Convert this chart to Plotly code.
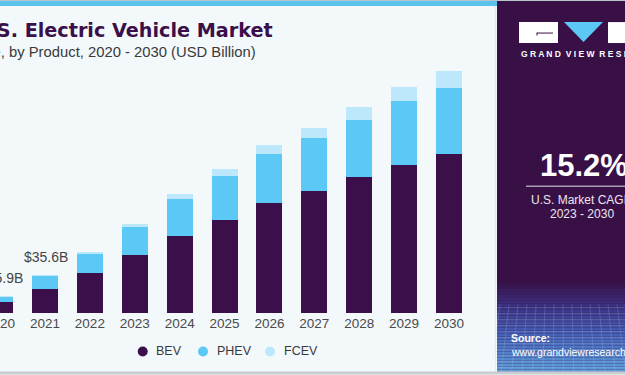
import plotly.graph_objects as go

# ---------------- data ----------------
years = ["2020", "2021", "2022", "2023", "2024", "2025", "2026", "2027", "2028", "2029", "2030"]
bev = [10.2, 22.8, 37.9, 55.1, 73.0, 88.0, 103.8, 114.7, 127.9, 139.8, 149.9]
phev = [5.6, 12.5, 18.1, 26.1, 34.5, 40.8, 46.4, 50.3, 54.3, 60.0, 62.7]
fcev = [0.1, 0.3, 1.3, 3.1, 4.7, 7.0, 8.5, 10.0, 12.0, 13.8, 15.5]
series_names = ["BEV", "PHEV", "FCEV"]
series_colors = ["#3a0f4a", "#5bc8f5", "#bde7fa"]
value_labels = {"2020": "$15.9B", "2021": "$35.6B"}
cagr_text = "15.2%"

# ---------------- layout geometry ----------------
W, H = 625, 375
ML, MR, MT, MB = 0, 135, 60, 61.5
PW = W - ML - MR
PH = H - MT - MB
BOTTOM = H - MB


def px(x):
    return (x - ML) / PW


def py(y):
    return (BOTTOM - y) / PH


fig = go.Figure()
for name, vals, col in zip(series_names, [bev, phev, fcev], series_colors):
    fig.add_trace(go.Bar(
        x=years, y=vals, name=name, marker=dict(color=col, line=dict(width=0)),
        showlegend=False, hoverinfo="skip",
    ))

totals = [a + b + c for a, b, c in zip(bev, phev, fcev)]

annotations = []
for yr, txt in value_labels.items():
    i = years.index(yr)
    annotations.append(dict(
        x=i, y=totals[i], xref="x", yref="y", text=txt, showarrow=False,
        yshift=18, xshift=1, font=dict(family="Liberation Sans", size=14, color="#444444"),
    ))

# title / subtitle (cropped at the left like the reference)
annotations.append(dict(
    x=px(275), y=py(30), xref="paper", yref="paper", xanchor="right", yanchor="middle",
    text="<b>U.S. Electric Vehicle Market</b>", showarrow=False,
    font=dict(family="DejaVu Sans", size=19.2, color="#3a0f4a"),
))
annotations.append(dict(
    x=px(258), y=py(52), xref="paper", yref="paper", xanchor="right", yanchor="middle",
    text="Size, by Product, 2020 - 2030 (USD Billion)", showarrow=False,
    font=dict(family="Liberation Sans", size=14.8, color="#3a3a3a"),
))

shapes = []
# top light-blue strip
shapes.append(dict(type="rect", xref="paper", yref="paper", x0=px(0), x1=px(497), y0=py(6), y1=py(0),
                   fillcolor="#5cc3ec", line=dict(width=0), layer="below"))
shapes.append(dict(type="rect", xref="paper", yref="paper", x0=px(0), x1=px(625), y0=py(1), y1=py(0),
                   fillcolor="#b8c4cc", line=dict(width=0), layer="below"))
# right dark panel
shapes.append(dict(type="rect", xref="paper", yref="paper", x0=px(497), x1=px(626), y0=py(372), y1=py(1),
                   fillcolor="#381046", line=dict(width=0), layer="below"))
# gradient at the bottom of panel
stops = [(280, (56, 16, 70)), (305, (60, 50, 130)), (335, (70, 100, 185)), (372, (95, 160, 220))]
y = 280
step = 3
while y < 372:
    for (ya, ca), (yb, cb) in zip(stops[:-1], stops[1:]):
        if ya <= y < yb:
            t = (y - ya) / (yb - ya)
            c = tuple(int(ca[k] + (cb[k] - ca[k]) * t) for k in range(3))
            break
    shapes.append(dict(type="rect", xref="paper", yref="paper", x0=px(497), x1=px(626),
                       y0=py(min(y + step, 372)), y1=py(y),
                       fillcolor="rgb(%d,%d,%d)" % c, line=dict(width=0), layer="below"))
    y += step
# faint grid texture lines
for gx in range(500, 626, 9):
    shapes.append(dict(type="line", xref="paper", yref="paper", x0=px(gx), x1=px(gx + (gx - 560) * 0.15),
                       y0=py(305), y1=py(372), line=dict(color="rgba(200,220,255,0.18)", width=1), layer="below"))
for gy in range(308, 372, 6):
    shapes.append(dict(type="line", xref="paper", yref="paper", x0=px(497), x1=px(626),
                       y0=py(gy), y1=py(gy), line=dict(color="rgba(200,220,255,0.15)", width=1), layer="below"))
# bottom gray line
shapes.append(dict(type="rect", xref="paper", yref="paper", x0=px(0), x1=px(626), y0=py(375), y1=py(372),
                   fillcolor="#c9cdd1", line=dict(width=0), layer="below"))
# separator light strip
shapes.append(dict(type="line", xref="paper", yref="paper", x0=px(495.5), x1=px(495.5), y0=py(372), y1=py(6),
                   line=dict(color="#d6ecf7", width=1), layer="below"))

# logo
shapes.append(dict(type="rect", xref="paper", yref="paper", x0=px(519), x1=px(558), y0=py(43), y1=py(22),
                   fillcolor="white", line=dict(width=0)))
shapes.append(dict(type="path", xref="paper", yref="paper",
                   path="M %f,%f L %f,%f L %f,%f Z" % (px(564), py(22), px(603), py(22), px(583.5), py(42)),
                   fillcolor="#5bc8f5", line=dict(width=0)))
shapes.append(dict(type="rect", xref="paper", yref="paper", x0=px(608), x1=px(640), y0=py(43), y1=py(22),
                   fillcolor="white", line=dict(width=0)))
shapes.append(dict(type="line", xref="paper", yref="paper", x0=px(537), x1=px(553), y0=py(33), y1=py(33),
                   line=dict(color="#381046", width=1)))
shapes.append(dict(type="line", xref="paper", yref="paper", x0=px(537), x1=px(537), y0=py(35.5), y1=py(32.5),
                   line=dict(color="#381046", width=1)))
annotations.append(dict(
    x=px(519), y=py(53.5), xref="paper", yref="paper", xanchor="left", yanchor="middle",
    text="<b>G R A N D  V I E W  R E S E A R C H</b>", showarrow=False,
    font=dict(family="Liberation Sans", size=8.5, color="white"),
))

# CAGR block
annotations.append(dict(
    x=px(584), y=py(166), xref="paper", yref="paper", xanchor="center", yanchor="middle",
    text="<b>" + cagr_text + "</b>", showarrow=False,
    font=dict(family="Liberation Sans", size=31, color="white"),
))
shapes.append(dict(type="line", xref="paper", yref="paper", x0=px(526), x1=px(640), y0=py(186.5), y1=py(186.5),
                   line=dict(color="#a89ab3", width=1.5)))
annotations.append(dict(
    x=px(582), y=py(200), xref="paper", yref="paper", xanchor="center", yanchor="middle",
    text="U.S. Market CAGR", showarrow=False,
    font=dict(family="Liberation Sans", size=12, color="#ece6f0"),
))
annotations.append(dict(
    x=px(582), y=py(214), xref="paper", yref="paper", xanchor="center", yanchor="middle",
    text="2023 - 2030", showarrow=False,
    font=dict(family="Liberation Sans", size=12, color="#ece6f0"),
))
# source
annotations.append(dict(
    x=px(509), y=py(339), xref="paper", yref="paper", xanchor="left", yanchor="middle",
    text="<b>Source:</b>", showarrow=False,
    font=dict(family="Liberation Sans", size=10.5, color="white"),
))
annotations.append(dict(
    x=px(509), y=py(353), xref="paper", yref="paper", xanchor="left", yanchor="middle",
    text="www.grandviewresearch.com", showarrow=False,
    font=dict(family="Liberation Sans", size=10.5, color="white"),
))

# custom legend with round markers
legend_circle_x = [142.7, 203, 270]
for name, col, cx in zip(series_names, series_colors, legend_circle_x):
    shapes.append(dict(type="circle", xref="paper", yref="paper",
                       x0=px(cx - 5), x1=px(cx + 5), y0=py(357), y1=py(347),
                       fillcolor=col, line=dict(width=0)))
    annotations.append(dict(
        x=px(cx + 11.5), y=py(352), xref="paper", yref="paper", xanchor="left", yanchor="middle",
        text=name, showarrow=False,
        font=dict(family="Liberation Sans", size=12.5, color="#3a3a3a"),
    ))

slot = 44.89
x0 = -0.002
fig.update_layout(
    width=W, height=H,
    margin=dict(l=ML, r=MR, t=MT, b=MB, pad=0, autoexpand=False),
    paper_bgcolor="#f3f8fb", plot_bgcolor="rgba(0,0,0,0)",
    barmode="stack", bargap=0.42,
    xaxis=dict(type="category", range=[x0, x0 + PW / slot], showgrid=False, zeroline=False,
               automargin=False, showline=False, ticks="",
               tickfont=dict(family="Liberation Sans", size=13.5, color="#4a4a4a")),
    yaxis=dict(range=[0, PH / 1.062], visible=False, showgrid=False, zeroline=False, automargin=False),
    shapes=shapes, annotations=annotations, showlegend=False,
)

fig.write_html("out.html", config={"displayModeBar": False},
               post_script="document.body.style.margin='0px';")
